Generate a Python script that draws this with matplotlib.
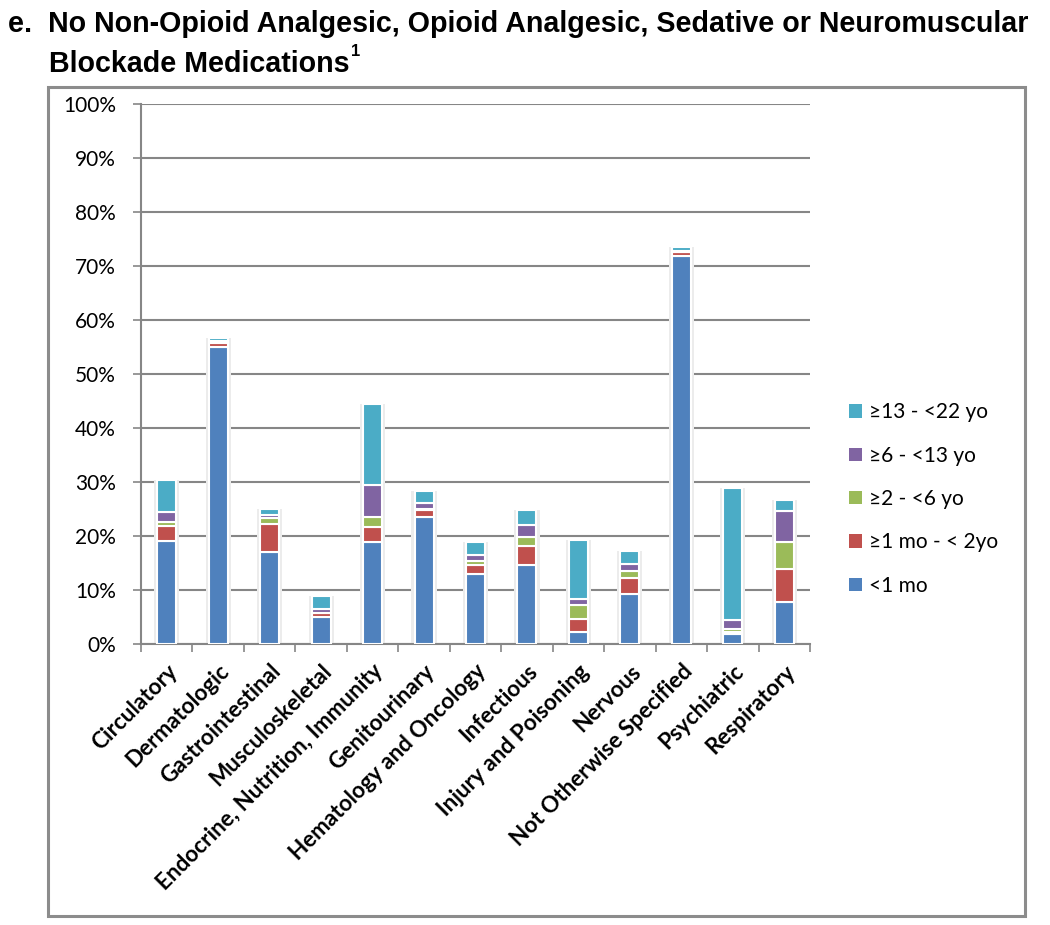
import matplotlib
matplotlib.use('Agg')
import matplotlib.pyplot as plt
from matplotlib import font_manager
from matplotlib.patches import Rectangle, Patch
import numpy as np

# 数据
categories = ['Circulatory', 'Dermatologic', 'Gastrointestinal', 'Musculoskeletal',
              'Endocrine, Nutrition, Immunity', 'Genitourinary', 'Hematology and Oncology',
              'Infectious', 'Injury and Poisoning', 'Nervous', 'Not Otherwise Specified',
              'Psychiatric', 'Respiratory']
lt_1mo = [19.0, 55.0, 17.1, 5.0, 18.9, 23.6, 13.0, 14.6, 2.3, 9.3, 71.8, 1.8, 7.7]
mo1_2yo = [2.8, 0.8, 5.2, 0.7, 2.8, 1.3, 1.6, 3.6, 2.4, 3.0, 0.7, 0.5, 6.2]
yo2_6 = [0.8, 0.1, 1.0, 0.1, 1.9, 0.1, 0.8, 1.6, 2.6, 1.3, 0.1, 0.5, 4.9]
yo6_13 = [1.8, 0.2, 0.6, 0.6, 5.8, 1.1, 1.0, 2.3, 1.1, 1.3, 0.2, 1.6, 5.8]
yo13_22 = [5.9, 0.6, 1.1, 2.4, 15.0, 2.2, 2.5, 2.8, 10.9, 2.4, 0.7, 24.5, 2.1]

series = [
    ('<1 mo', lt_1mo, '#4F81BD'),
    ('≥1 mo - < 2yo', mo1_2yo, '#C0504D'),
    ('≥2 - <6 yo', yo2_6, '#9BBB59'),
    ('≥6 - <13 yo', yo6_13, '#8064A2'),
    ('≥13 - <22 yo', yo13_22, '#4BACC6'),
]

installed = {f.name for f in font_manager.fontManager.ttflist}
title_font = 'Liberation Sans Narrow' if 'Liberation Sans Narrow' in installed else 'Liberation Sans'
body_font = ['Lato', 'DejaVu Sans']

fig = plt.figure(figsize=(10.5, 9.25), dpi=100)
ax = fig.add_axes([0.1343, 0.3038, 0.6371, 0.5838])

x = np.arange(len(categories))
width = 0.37

# 柱子阴影
totals = np.sum([s[1] for s in series], axis=0)
ax.bar(x, totals + 0.5, width + 0.12, bottom=-0.5, color='#ececec', zorder=2)

bottom = np.zeros(len(categories))
handles = []
for label, vals, color in series:
    ax.bar(x, vals, width, bottom=bottom, color=color, edgecolor='white',
           linewidth=1.5, zorder=3)
    bottom += np.array(vals)
    handles.append(Patch(facecolor=color, edgecolor='none', label=label))

ax.set_xlim(-0.5, len(categories) - 0.5)
ax.set_ylim(0, 100)
ax.set_yticks(np.arange(0, 101, 10))
ax.set_yticklabels([f'{v}%' for v in range(0, 101, 10)], family=body_font, fontsize=15)
ax.yaxis.grid(True, color='#868686', linewidth=1.5, zorder=0)
ax.set_axisbelow(True)

ax.set_xticks(x)
ax.set_xticklabels(categories, rotation=45, ha='right', rotation_mode='anchor',
                   family=body_font, fontsize=16.2, fontweight='bold')
ax.set_xticks(np.arange(-0.5, len(categories), 1), minor=True)
ax.tick_params(axis='x', which='major', length=0, pad=12)
ax.tick_params(axis='x', which='minor', length=6, color='#868686', width=1.2)
ax.tick_params(axis='y', length=6, color='#868686', width=1.2, pad=12)

for side in ['top', 'right']:
    ax.spines[side].set_visible(False)
for side in ['left', 'bottom']:
    ax.spines[side].set_color('#868686')
    ax.spines[side].set_linewidth(1.5)

fig.legend(handles=handles[::-1], loc='center left', bbox_to_anchor=(0.8086, 0.4605),
           frameon=False, prop={'family': body_font, 'size': 15},
           handlelength=0.6, handleheight=0.6, handletextpad=0.35,
           labelspacing=1.12, borderpad=0, borderaxespad=0)

# 外框
fig.patches.append(Rectangle((0.0457, 0.0097), 0.9305, 0.8962, transform=fig.transFigure,
                             fill=False, edgecolor='#8c8c8c', linewidth=2.2))

fig.text(0.008, 1 - 32 / 925, 'e.  No Non-Opioid Analgesic, Opioid Analgesic, Sedative or Neuromuscular',
         family=title_font, fontsize=20.6, fontweight='bold', va='baseline')
t2 = fig.text(0.047, 1 - 72 / 925, 'Blockade Medications',
              family=title_font, fontsize=20.6, fontweight='bold', va='baseline')
fig.canvas.draw()
bb = t2.get_window_extent()
fig.text(bb.x1 / fig.bbox.width + 0.001, 1 - 56 / 925, '1',
         family=title_font, fontsize=12, fontweight='bold', va='baseline')

plt.savefig('out.png', dpi=100)
plt.close()
